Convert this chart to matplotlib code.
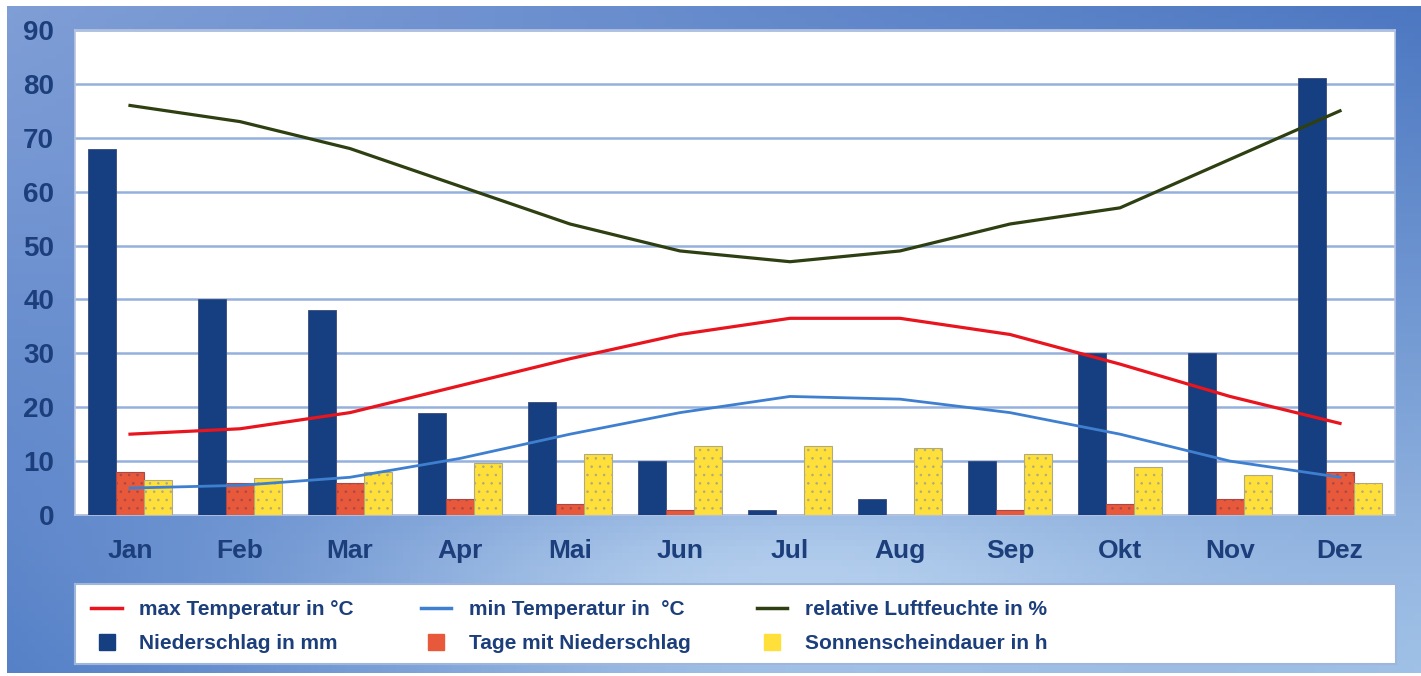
import numpy as np
import matplotlib
matplotlib.use("Agg")
import matplotlib.pyplot as plt
from matplotlib.lines import Line2D

# climate data
months = ["Jan", "Feb", "Mar", "Apr", "Mai", "Jun",
          "Jul", "Aug", "Sep", "Okt", "Nov", "Dez"]
niederschlag = [68, 40, 38, 19, 21, 10, 1, 3, 10, 30, 30, 81]
tage_niederschlag = [8, 6, 6, 3, 2, 1, 0, 0, 1, 2, 3, 8]
sonnenschein = [6.5, 6.9, 8, 9.6, 11.3, 12.8, 12.8, 12.4, 11.3, 8.9, 7.4, 5.9]
max_temp = [15, 16, 19, 24, 29, 33.5, 36.5, 36.5, 33.5, 28, 22, 17]
min_temp = [5, 5.5, 7, 10.5, 15, 19, 22, 21.5, 19, 15, 10, 7]
luftfeuchte = [76, 73, 68, 61, 54, 49, 47, 49, 54, 57, 66, 75]
yticks = list(range(0, 100, 10))

text_color = "#1c3f7c"
plt.rcParams["font.family"] = ["Liberation Sans", "DejaVu Sans"]
plt.rcParams["font.weight"] = "bold"
plt.rcParams["hatch.linewidth"] = 0.6

W, H = 1421, 676
fig = plt.figure(figsize=(W / 100, H / 100), dpi=100, facecolor="white")

# blue gradient background
bg = fig.add_axes([7 / W, 3 / H, 1 - 7 / W, 1 - 9 / H], zorder=-10)
u, v = np.meshgrid(np.linspace(0, 1, 200), np.linspace(0, 1, 100))
tl = np.array([0.50, 0.62, 0.84])
tr = np.array([0.30, 0.47, 0.76])
bl = np.array([0.33, 0.50, 0.78])
br = np.array([0.62, 0.75, 0.90])
img = (((1 - u) * (1 - v))[..., None] * tl + (u * (1 - v))[..., None] * tr
       + ((1 - u) * v)[..., None] * bl + (u * v)[..., None] * br)
spot = np.exp(-(((u - 0.55) / 0.3) ** 2 + ((v - 0.88) / 0.18) ** 2))[..., None]
img = img * (1 - 0.75 * spot) + np.array([0.78, 0.87, 0.96]) * 0.75 * spot
bg.imshow(np.clip(img, 0, 1), aspect="auto", extent=[0, 1, 0, 1], origin="upper")
bg.set_axis_off()

# main plot
ax = fig.add_axes([75 / W, 1 - 515 / H, 1320 / W, 485 / H])
ax.set_facecolor("white")
x = np.arange(len(months))
bw = 0.255

ax.bar(x - bw, niederschlag, bw, color="#153f80", edgecolor="#3a4a78",
       linewidth=0.6, zorder=3)
ax.bar(x, tage_niederschlag, bw, color="#e8583a", edgecolor="#a84848",
       hatch="..", linewidth=0.8, zorder=3)
ax.bar(x + bw, sonnenschein, bw, color="#ffe03a", edgecolor="#b0aa80",
       hatch="..", linewidth=0.8, zorder=3)

ax.plot(x, max_temp, color="#e8141e", lw=2.3, zorder=4)
ax.plot(x, min_temp, color="#3f7fcf", lw=2.0, zorder=4)
ax.plot(x, luftfeuchte, color="#2e3f12", lw=2.3, zorder=4)

ax.set_xlim(-0.5, 11.5)
ax.set_ylim(0, 90)
ax.set_yticks(yticks)
ax.set_xticks(x)
ax.set_xticklabels(months)
ax.yaxis.grid(True, color="#95b0dc", lw=1.8, zorder=0)
ax.set_axisbelow(True)
ax.tick_params(axis="both", length=0, colors=text_color)
ax.tick_params(axis="y", pad=15, labelsize=20)
ax.tick_params(axis="x", pad=17, labelsize=19)
for s in ax.spines.values():
    s.set_color("#b8c4e0")
    s.set_linewidth(1.2)

# legend box
lax = fig.add_axes([75 / W, 1 - 664 / H, 1321 / W, 80 / H])
lax.set_facecolor("white")
lax.set_xticks([])
lax.set_yticks([])
for s in lax.spines.values():
    s.set_color("#9fb6dc")
    s.set_linewidth(1.5)

handles = [
    Line2D([], [], color="#e8141e", lw=2.5),
    Line2D([], [], ls="none", marker="s", ms=11, color="#153f80"),
    Line2D([], [], color="#3f7fcf", lw=2.5),
    Line2D([], [], ls="none", marker="s", ms=11, color="#e8583a"),
    Line2D([], [], color="#2e3f12", lw=2.5),
    Line2D([], [], ls="none", marker="s", ms=11, color="#ffe03a"),
]
labels = ["max Temperatur in °C", "Niederschlag in mm",
          "min Temperatur in  °C", "Tage mit Niederschlag",
          "relative Luftfeuchte in %", "Sonnenscheindauer in h"]
leg = lax.legend(handles, labels, ncol=3, loc="center left",
                 bbox_to_anchor=(0.0046, 0.47), frameon=False, borderpad=0,
                 fontsize=15, handlelength=1.45, handletextpad=0.85,
                 columnspacing=3.2, labelspacing=0.72)
for t in leg.get_texts():
    t.set_color(text_color)

fig.savefig("out.png", dpi=100, facecolor="white")
